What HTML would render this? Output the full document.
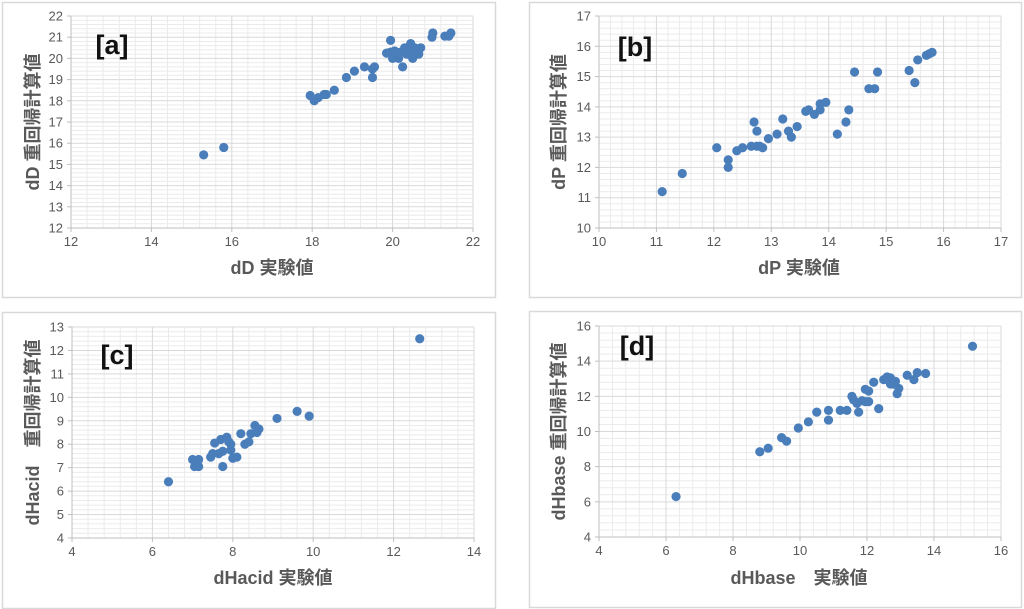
<!DOCTYPE html>
<html><head><meta charset="utf-8">
<style>
html,body{margin:0;padding:0;background:#fff;width:1024px;height:609px;overflow:hidden}
svg{display:block;font-family:"Liberation Sans","Noto Sans CJK JP",sans-serif}
</style></head>
<body>
<svg id="chart" width="1024" height="609" viewBox="0 0 1024 609"></svg>
<script>
const aX=[15.3,15.8,17.95,18.05,18.15,18.3,18.35,18.55,18.85,19.05,19.3,19.5,19.5,19.55,19.85,19.95,19.95,20.0,20.05,20.1,20.15,20.2,20.25,20.3,20.35,20.4,20.45,20.5,20.55,20.6,20.65,20.7,20.3,20.1,20.98,21.0,21.3,21.4,21.45];
const aY=[15.45,15.8,18.25,18.0,18.15,18.3,18.3,18.5,19.1,19.4,19.6,19.1,19.5,19.6,20.25,20.85,20.3,20.0,20.35,20.2,20.0,20.3,19.6,20.5,20.2,20.3,20.7,20.0,20.5,20.3,20.2,20.5,20.3,20.1,21.0,21.2,21.05,21.05,21.2];
const bX=[11.1,11.45,12.05,12.25,12.25,12.4,12.5,12.65,12.7,12.75,12.75,12.8,12.85,12.95,13.1,13.2,13.3,13.35,13.45,13.6,13.65,13.75,13.85,13.85,13.95,14.15,14.3,14.35,14.45,14.7,14.8,14.85,15.4,15.5,15.55,15.7,15.75,15.8];
const bY=[11.2,11.8,12.65,12.25,12.0,12.55,12.65,12.7,13.5,13.2,12.7,12.7,12.65,12.95,13.1,13.6,13.2,13.0,13.35,13.85,13.9,13.75,13.9,14.1,14.15,13.1,13.5,13.9,15.15,14.6,14.6,15.15,15.2,14.8,15.55,15.7,15.75,15.8];
const cX=[6.4,7.0,7.05,7.1,7.15,7.15,7.45,7.5,7.55,7.65,7.7,7.75,7.75,7.85,7.9,7.95,7.95,8.0,8.1,8.2,8.3,8.4,8.45,8.55,8.6,8.65,9.1,9.6,9.9,12.65];
const cY=[6.4,7.35,7.05,7.2,7.05,7.35,7.45,7.6,8.05,7.6,8.2,7.7,7.05,8.3,8.1,7.75,8.0,7.4,7.45,8.45,8.0,8.1,8.45,8.8,8.5,8.65,9.1,9.4,9.2,12.5];
const dX=[6.3,8.8,9.05,9.45,9.6,9.95,10.25,10.5,10.85,10.85,11.2,11.4,11.55,11.6,11.7,11.75,11.85,11.95,11.95,12.05,12.05,12.2,12.35,12.5,12.6,12.7,12.7,12.8,12.85,12.9,12.95,13.2,13.4,13.5,13.75,15.15];
const dY=[6.3,8.85,9.05,9.65,9.45,10.2,10.55,11.1,10.65,11.2,11.2,11.2,12.0,11.8,11.6,11.1,11.75,11.7,12.4,12.3,11.7,12.8,11.3,12.95,13.1,13.05,12.7,12.7,12.85,12.15,12.45,13.2,12.95,13.35,13.3,14.85];
const aXTicks=[12,14,16,18,20,22], aYTicks=[12,13,14,15,16,17,18,19,20,21,22];
const bXTicks=[10,11,12,13,14,15,16,17], bYTicks=[10,11,12,13,14,15,16,17];
const cXTicks=[4,6,8,10,12,14], cYTicks=[4,5,6,7,8,9,10,11,12,13];
const dXTicks=[4,6,8,10,12,14,16], dYTicks=[4,6,8,10,12,14,16];

const NS="http://www.w3.org/2000/svg";
const svg=document.getElementById('chart');
function mk(tag,attrs,parent){const e=document.createElementNS(NS,tag);for(const k in attrs)e.setAttribute(k,attrs[k]);(parent||svg).appendChild(e);return e;}

const panels=[
 {id:'a',box:[2,2,493,295],pl:71,pr:473,pt:16,pb:228,xs:aX,ys:aY,xt:aXTicks,yt:aYTicks,xmin:5,ymin:5,xt_:'dD 実験値',yt_:'dD 重回帰計算値',tx:272,ty:268,yx:33,lab:'[a]',lx:112,ly:45},
 {id:'b',box:[529,2,492,295],pl:599,pr:1001,pt:16,pb:228,xs:bX,ys:bY,xt:bXTicks,yt:bYTicks,xmin:5,ymin:5,xt_:'dP 実験値',yt_:'dP 重回帰計算値',tx:799,ty:268,yx:559,lab:'[b]',lx:635,ly:47},
 {id:'c',box:[2,312,493,296],pl:72,pr:474,pt:327,pb:538,xs:cX,ys:cY,xt:cXTicks,yt:cYTicks,xmin:5,ymin:5,xt_:'dHacid 実験値',yt_:'dHacid　重回帰計算値',tx:273,ty:578,yx:33,lab:'[c]',lx:117,ly:355},
 {id:'d',box:[529,311,492,296],pl:599,pr:1001,pt:326,pb:537,xs:dX,ys:dY,xt:dXTicks,yt:dYTicks,xmin:5,ymin:5,xt_:'dHbase　実験値',yt_:'dHbase 重回帰計算値',tx:799,ty:578,yx:559,lab:'[d]',lx:637,ly:346}
];

panels.forEach(p=>{
  const g=mk('g',{});
  
  
  const frame=mk('rect',{x:p.box[0]+0.5,y:p.box[1]+0.5,width:p.box[2],height:p.box[3],fill:'#fff',stroke:'#d9d9d9','stroke-width':1.5},g);
  
  
  const x0=p.xt[0],x1=p.xt[p.xt.length-1],y0=p.yt[0],y1=p.yt[p.yt.length-1];
  const sx=v=>p.pl+(v-x0)/(x1-x0)*(p.pr-p.pl);
  const sy=v=>p.pb-(v-y0)/(y1-y0)*(p.pb-p.pt);
  const grid=mk('g',{},g);
  
  
  for(let i=0;i<p.xt.length-1;i++){const st=(p.xt[i+1]-p.xt[i])/p.xmin;for(let k=1;k<p.xmin;k++){const X=sx(p.xt[i]+k*st);mk('line',{x1:X,y1:p.pt,x2:X,y2:p.pb,stroke:'#ebebeb','stroke-width':1},grid);}}
  for(let i=0;i<p.yt.length-1;i++){const st=(p.yt[i+1]-p.yt[i])/p.ymin;for(let k=1;k<p.ymin;k++){const Y=sy(p.yt[i]+k*st);mk('line',{x1:p.pl,y1:Y,x2:p.pr,y2:Y,stroke:'#ebebeb','stroke-width':1},grid);}}
  p.xt.forEach(v=>{const X=sx(v);mk('line',{x1:X,y1:p.pt,x2:X,y2:p.pb,stroke:'#d9d9d9','stroke-width':1},grid);
    mk('line',{x1:X,y1:p.pb,x2:X,y2:p.pb+4,stroke:'#bfbfbf'},grid);
    const t=mk('text',{x:X,y:p.pb+18,'text-anchor':'middle','font-size':13,fill:'#595959'},g);t.textContent=v;
    
    });
  p.yt.forEach(v=>{const Y=sy(v);mk('line',{x1:p.pl,y1:Y,x2:p.pr,y2:Y,stroke:'#d9d9d9','stroke-width':1},grid);
    mk('line',{x1:p.pl-4,y1:Y,x2:p.pl,y2:Y,stroke:'#bfbfbf'},grid);
    const t=mk('text',{x:p.pl-8,y:Y+4.5,'text-anchor':'end','font-size':13,fill:'#595959'},g);t.textContent=v;
    
    });
  mk('line',{x1:p.pl,y1:p.pb,x2:p.pr,y2:p.pb,stroke:'#bfbfbf'},g);
  mk('line',{x1:p.pl,y1:p.pt,x2:p.pl,y2:p.pb,stroke:'#bfbfbf'},g);
  const pts=mk('g',{},g);
  
  
  p.xs.forEach((v,i)=>{const c=mk('circle',{cx:sx(v),cy:sy(p.ys[i]),r:4.6,fill:'#4a7ebb'},pts);
    
    });
  const xt=mk('text',{x:p.tx,y:p.ty+6,'text-anchor':'middle','font-size':18,'font-weight':'bold',fill:'#595959'},g);xt.textContent=p.xt_;
  
  
  const cy=(p.pt+p.pb)/2;
  const yt=mk('text',{x:p.yx,y:cy,'text-anchor':'middle','font-size':18,'font-weight':'bold',fill:'#595959',transform:`rotate(-90 ${p.yx} ${cy})`,'dominant-baseline':'central'},g);yt.textContent=p.yt_;
  
  
  const lb=mk('text',{x:p.lx,y:p.ly+9,'text-anchor':'middle','font-size':27,'font-weight':'bold',fill:'#111'},g);lb.textContent=p.lab;
  
  
});
</script>
</body></html>
